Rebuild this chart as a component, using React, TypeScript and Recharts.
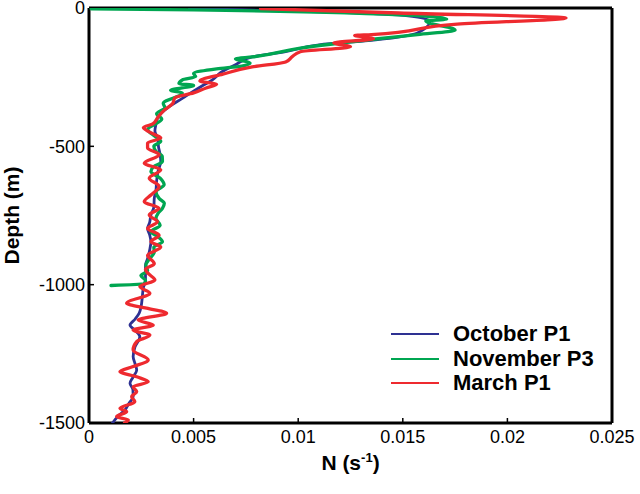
import { ScatterChart, Scatter, XAxis, YAxis, Label } from "recharts"

const octoberDepth = [-2, -25, -47, -90, -115, -133, -158, -177, -205, -233, -260, -282, -305, -325, -358, -394, -420, -445, -475, -500, -530, -555, -590, -627, -660, -688, -720, -748, -775, -797, -820, -845, -875, -906, -930, -955, -983, -1010, -1043, -1075, -1103, -1125, -1146, -1165, -1188, -1225, -1260, -1285, -1308, -1335, -1356, -1380, -1405, -1430, -1453, -1475, -1500];
const octoberN = [0.0048, 0.0148, 0.0163, 0.0157, 0.0137, 0.011, 0.0094, 0.0078, 0.007, 0.0063, 0.0059, 0.0054, 0.0049, 0.0045, 0.0038, 0.0033, 0.0032, 0.00315, 0.0033, 0.00332, 0.0034, 0.00343, 0.0033, 0.00323, 0.0032, 0.00312, 0.0031, 0.00296, 0.0029, 0.0028, 0.0029, 0.00296, 0.0029, 0.0028, 0.0027, 0.0027, 0.0027, 0.0026, 0.00255, 0.0025, 0.0024, 0.0022, 0.00196, 0.0022, 0.00243, 0.0022, 0.00211, 0.0022, 0.00228, 0.0021, 0.00196, 0.0021, 0.00211, 0.0019, 0.00172, 0.0014, 0.00112];

const novemberDepth = [-3, -7, -27, -40, -47, -80, -96, -112, -145, -177, -184, -199, -210, -220, -237, -248, -260, -273, -280, -298, -307, -345, -360, -383, -401, -439, -464, -482, -500, -518, -536, -555, -573, -591, -615, -639, -664, -688, -706, -724, -742, -761, -785, -809, -827, -845, -864, -882, -906, -930, -950, -967, -985, -997, -1003];
const novemberN = [0.0001, 0.005, 0.0155, 0.0171, 0.0161, 0.0175, 0.0157, 0.0137, 0.0101, 0.0078, 0.007, 0.0077, 0.0073, 0.0061, 0.005, 0.0051, 0.00446, 0.0043, 0.005, 0.0039, 0.00446, 0.00355, 0.00363, 0.00323, 0.00348, 0.00281, 0.00315, 0.00343, 0.0031, 0.0032, 0.0035, 0.00351, 0.0031, 0.00296, 0.0034, 0.00359, 0.0032, 0.00335, 0.0036, 0.00351, 0.0033, 0.0032, 0.0034, 0.00296, 0.0033, 0.00351, 0.0031, 0.00312, 0.0029, 0.00272, 0.0028, 0.00248, 0.0027, 0.00264, 0.00105];

const marchDepth = [-2, -18, -36, -58, -96, -99, -111, -126, -140, -158, -177, -195, -213, -239, -264, -276, -289, -307, -325, -345, -369, -394, -419, -432, -445, -460, -470, -488, -506, -530, -561, -585, -615, -645, -676, -700, -724, -748, -773, -797, -821, -845, -864, -894, -924, -945, -965, -983, -1007, -1031, -1067, -1085, -1103, -1128, -1146, -1164, -1182, -1206, -1236, -1272, -1296, -1314, -1333, -1351, -1369, -1387, -1405, -1423, -1447, -1459, -1477, -1489, -1500];
const marchN = [0.0082, 0.0148, 0.0228, 0.0176, 0.0135, 0.0127, 0.0136, 0.0117, 0.0125, 0.0101, 0.0097, 0.0094, 0.0078, 0.0064, 0.0053, 0.0061, 0.0056, 0.005, 0.0041, 0.004, 0.0036, 0.0033, 0.00305, 0.0026, 0.00281, 0.0032, 0.00343, 0.0028, 0.0028, 0.00335, 0.00264, 0.00343, 0.00288, 0.00335, 0.00296, 0.00264, 0.00335, 0.00288, 0.00327, 0.0028, 0.00335, 0.00296, 0.00343, 0.0028, 0.00312, 0.0027, 0.00291, 0.00315, 0.00243, 0.00291, 0.0018, 0.00275, 0.00371, 0.00235, 0.00307, 0.00211, 0.00291, 0.00228, 0.00211, 0.00283, 0.00211, 0.00148, 0.00228, 0.00283, 0.00211, 0.00228, 0.00204, 0.00219, 0.00148, 0.0018, 0.00132, 0.00188, 0.0017];

const nTicks = [0, 0.005, 0.01, 0.015, 0.02, 0.025];
const depthTicks = [0, -500, -1000, -1500];

const FONT = '"Liberation Sans", Arial, Helvetica, sans-serif';

const toPoints = (depth: number[], n: number[]) => depth.map((d, i) => ({ n: n[i], d }));

const SERIES = [
    { name: "October P1", color: "#2e3192", width: 2.8, data: toPoints(octoberDepth, octoberN) },
    { name: "November P3", color: "#00a651", width: 3.3, data: toPoints(novemberDepth, novemberN) },
    { name: "March P1", color: "#ee2a2f", width: 3.3, data: toPoints(marchDepth, marchN) },
];

const noDot = () => <g />;

const fmtN = (v: number) => (v === 0 ? "0" : String(v));

const renderNTitle = ({ viewBox }: any) => {
    const cx = viewBox.x + viewBox.width / 2;
    return (
        <text x={cx} y={470} textAnchor="middle" fontFamily={FONT} fontWeight="bold" fontSize={21} fill="#000">
            N (s<tspan dy={-8} fontSize={13}>-1</tspan><tspan dy={8}>)</tspan>
        </text>
    );
};

const renderDepthTitle = ({ viewBox }: any) => {
    const x = viewBox.x + 10;
    const y = viewBox.y + viewBox.height / 2;
    return (
        <text x={x} y={y} transform={`rotate(-90, ${x}, ${y})`} textAnchor="middle" fontFamily={FONT} fontWeight="bold" fontSize={21} fill="#000">
            Depth (m)
        </text>
    );
};

export default function App() {
    const tickStyle = { fontFamily: FONT, fontSize: 18, fill: "#000" };
    const axisLine = { stroke: "#000", strokeWidth: 3 };
    const tickLine = { stroke: "#000", strokeWidth: 1.5 };

    return (
        <div style={{ position: "absolute", left: 0, top: 0, width: 640, height: 494, background: "#fff" }}>
            <ScatterChart width={640} height={494} margin={{ top: 3, right: 23, bottom: 31, left: 9 }}>
                <XAxis
                    xAxisId="bottom"
                    type="number"
                    dataKey="n"
                    domain={[0, 0.025]}
                    ticks={nTicks}
                    interval={0}
                    tickFormatter={fmtN}
                    height={40}
                    tickSize={-5}
                    tickMargin={12}
                    tick={tickStyle}
                    axisLine={axisLine}
                    tickLine={tickLine}
                    allowDataOverflow
                >
                    <Label content={renderNTitle} />
                </XAxis>
                <XAxis
                    xAxisId="top"
                    orientation="top"
                    type="number"
                    dataKey="n"
                    domain={[0, 0.025]}
                    ticks={nTicks}
                    interval={0}
                    height={5}
                    tickSize={-5}
                    tick={false}
                    axisLine={axisLine}
                    tickLine={tickLine}
                    allowDataOverflow
                />
                <YAxis
                    yAxisId="left"
                    type="number"
                    dataKey="d"
                    domain={[-1500, 0]}
                    ticks={depthTicks}
                    interval={0}
                    width={80}
                    tickSize={-5}
                    tickMargin={9}
                    tick={tickStyle}
                    axisLine={axisLine}
                    tickLine={tickLine}
                    allowDataOverflow
                >
                    <Label content={renderDepthTitle} />
                </YAxis>
                <YAxis
                    yAxisId="right"
                    orientation="right"
                    type="number"
                    dataKey="d"
                    domain={[-1500, 0]}
                    ticks={depthTicks}
                    interval={0}
                    width={5}
                    tickSize={-5}
                    tick={false}
                    axisLine={axisLine}
                    tickLine={tickLine}
                    allowDataOverflow
                />
                {SERIES.map((s) => (
                    <Scatter
                        key={s.name}
                        name={s.name}
                        data={s.data}
                        xAxisId="bottom"
                        yAxisId="left"
                        fill={s.color}
                        line={{ stroke: s.color, strokeWidth: s.width, strokeLinejoin: "round", strokeLinecap: "round" }}
                        lineJointType="monotoneY"
                        shape={noDot}
                        isAnimationActive={false}
                    />
                ))}
            </ScatterChart>
            <div style={{ position: "absolute", left: 391, top: 322 }}>
                {SERIES.map((s) => (
                    <div key={s.name} style={{ display: "flex", alignItems: "center", height: 24.5 }}>
                        <div style={{ width: 48, height: 2, background: s.color, marginRight: 14 }} />
                        <span style={{ fontFamily: FONT, fontWeight: "bold", fontSize: 22, lineHeight: "24.5px", color: "#000" }}>{s.name}</span>
                    </div>
                ))}
            </div>
        </div>
    );
}
